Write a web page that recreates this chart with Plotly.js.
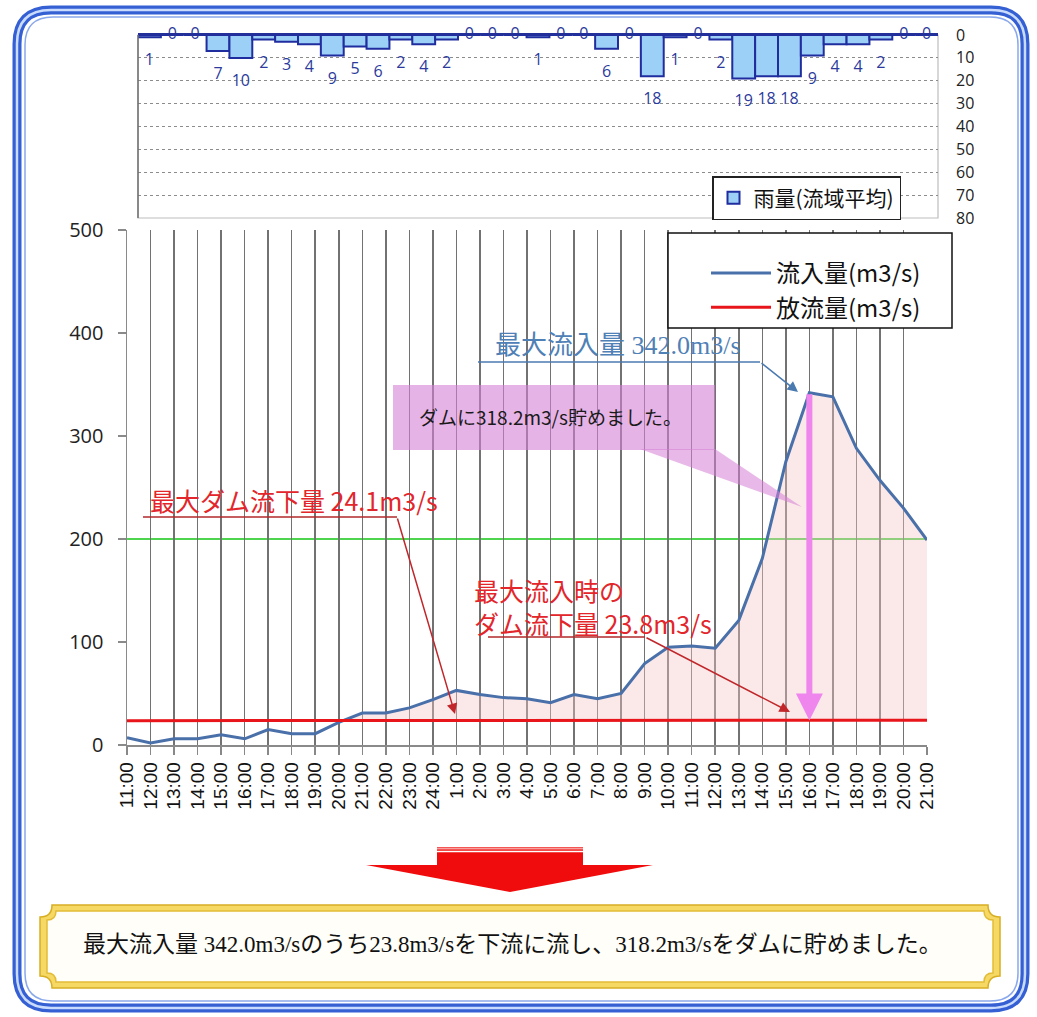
<!DOCTYPE html>
<html>
<head>
<meta charset="utf-8">
<script src="https://cdn.plot.ly/plotly-3.0.1.min.js"></script>
<style>
html,body{margin:0;padding:0;background:#fff;}
#chart{width:1037px;height:1017px;}
</style>
</head>
<body>
<div id="chart"></div>
<script>
// ---------------- data ----------------
const timeLabels = ['11:00','12:00','13:00','14:00','15:00','16:00','17:00','18:00','19:00','20:00','21:00','22:00','23:00','24:00',
  '1:00','2:00','3:00','4:00','5:00','6:00','7:00','8:00','9:00','10:00','11:00','12:00','13:00','14:00','15:00','16:00','17:00','18:00','19:00','20:00','21:00'];
const rainfall = [1,0,0,7,10,2,3,4,9,5,6,2,4,2,0,0,0,1,0,0,6,0,18,1,0,2,19,18,18,9,4,4,2,0,0];
const inflow = [7,2,6,6,10,6,15,11,11,22,31,31,36,44,53,49,46,45,41,49,45,50,79,95,96,94,121,181,275,342,338,288,257,230,199];
const outflow = [23.6,23.6,23.6,23.6,23.6,23.6,23.6,23.6,23.6,23.7,23.8,23.9,24.0,24.0,24.1,24.0,23.9,23.9,23.8,23.8,23.8,23.8,23.8,23.8,23.8,23.8,23.8,23.8,23.8,23.8,23.9,24.0,24.0,24.1,24.1];
const rainTicks = [0,10,20,30,40,50,60,70,80];
const flowTicks = [0,100,200,300,400,500];
const floodFlow = 200;
const peakInflow = 342.0;
const peakOutflow = 23.8;
const maxOutflow = 24.1;
const storedFlow = 318.2;
const seriesNames = {rain:'雨量(流域平均)', inflow:'流入量(m3/s)', outflow:'放流量(m3/s)'};

// ---------------- geometry helpers (pixel -> paper) ----------------
const PL = 127, PR = 938, PT = 35, PB = 745;
const W = PR - PL, H = PB - PT;
const fx = p => (p - PL) / W;
const fy = p => (PB - p) / H;
const P = (x, y) => fx(x).toFixed(5) + ',' + fy(y).toFixed(5);

function roundRect(x0, y0, x1, y1, r) {
  return `M${P(x0 + r, y0)} L${P(x1 - r, y0)} Q${P(x1, y0)} ${P(x1, y0 + r)} L${P(x1, y1 - r)} Q${P(x1, y1)} ${P(x1 - r, y1)} ` +
         `L${P(x0 + r, y1)} Q${P(x0, y1)} ${P(x0, y1 - r)} L${P(x0, y0 + r)} Q${P(x0, y0)} ${P(x0 + r, y0)} Z`;
}
function notchRect(x0, y0, x1, y1, r) {
  return `M${P(x0 + r, y0)} L${P(x1 - r, y0)} Q${P(x1 - r, y0 + r)} ${P(x1, y0 + r)} L${P(x1, y1 - r)} Q${P(x1 - r, y1 - r)} ${P(x1 - r, y1)} ` +
         `L${P(x0 + r, y1)} Q${P(x0 + r, y1 - r)} ${P(x0, y1 - r)} L${P(x0, y0 + r)} Q${P(x0 + r, y0 + r)} ${P(x0 + r, y0)} Z`;
}
function poly(pts) {
  return 'M' + pts.map(p => P(p[0], p[1])).join(' L') + ' Z';
}
function pxLine(x0, y0, x1, y1, color, width) {
  return {type:'line', xref:'paper', yref:'paper', x0:fx(x0), y0:fy(y0), x1:fx(x1), y1:fy(y1),
          line:{color:color, width:width}, layer:'above'};
}
function pxText(left, cy, text, font, extra) {
  return Object.assign({xref:'paper', yref:'paper', x:fx(left), y:fy(cy), xanchor:'left', yanchor:'middle',
          text:text, showarrow:false, font:font}, extra || {});
}
function pxArrow(tail, tip, color, width, size) {
  return {xref:'paper', yref:'paper', x:fx(tip[0]), y:fy(tip[1]), ax:tail[0] - tip[0], ay:tail[1] - tip[1],
          text:'', showarrow:true, arrowhead:2, arrowsize:size || 1.3, arrowwidth:width, arrowcolor:color, standoff:0};
}

const idx = timeLabels.map((_, i) => i);
const fillTop = inflow.map((v, i) => Math.max(v, outflow[i]));
const peakIdx = inflow.indexOf(Math.max(...inflow));

const JP = '"Noto Sans CJK JP", "Noto Sans", sans-serif';
const SERIF = '"Liberation Serif", "DejaVu Serif", "Noto Sans CJK JP", serif';

// ---------------- traces ----------------
const traces = [
  {type:'bar', x:idx, y:rainfall, xaxis:'x2', yaxis:'y2', name:seriesNames.rain, legend:'legend2',
   width:1, marker:{color:'#9dd0f6', line:{color:'#1f2d9e', width:2}}, showlegend:true},
  {type:'scatter', mode:'text', x:idx, y:rainfall.map(v => v > 0 ? v + 10.5 : 0), xaxis:'x2', yaxis:'y2',
   text:rainfall.map(String), textposition:'middle center', cliponaxis:false,
   textfont:{family:'"Open Sans", "DejaVu Sans", sans-serif', size:16, color:'#2b3a9c'}, showlegend:false},
  {type:'scatter', mode:'lines', x:idx, y:outflow, line:{width:0, color:'rgba(0,0,0,0)'}, showlegend:false},
  {type:'scatter', mode:'lines', x:idx, y:fillTop, fill:'tonexty', fillcolor:'rgba(244,200,200,0.4)',
   line:{width:0, color:'rgba(0,0,0,0)'}, showlegend:false},
  {type:'scatter', mode:'lines', x:idx, y:inflow, name:seriesNames.inflow, line:{color:'#4a70aa', width:3}, cliponaxis:false},
  {type:'scatter', mode:'lines', x:idx, y:outflow, name:seriesNames.outflow, line:{color:'#e8161b', width:3}, cliponaxis:false}
];

// ---------------- shapes ----------------
const shapes = [
  // outer rounded frame
  {type:'path', xref:'paper', yref:'paper', path:roundRect(17, 10, 1025, 1008, 34), line:{color:'#3560d4', width:9}, layer:'below'},
  {type:'path', xref:'paper', yref:'paper', path:roundRect(17, 10, 1025, 1008, 34), line:{color:'#c9dbff', width:2.5}, layer:'below'},
  {type:'path', xref:'paper', yref:'paper', path:roundRect(25, 17, 1018, 1001, 28), line:{color:'#8aa8ec', width:1.5}, layer:'below'},
  // rain panel box
  {type:'rect', xref:'paper', yref:'paper', x0:fx(138), x1:1, y0:fy(218), y1:1, line:{color:'#bdbdbd', width:1.2}, layer:'below'},
  pxLine(138, 35, 138, 218, '#6f6f6f', 1.5),
  // flood level line
  {type:'line', xref:'paper', yref:'y', x0:fx(120), x1:fx(927), y0:floodFlow, y1:floodFlow,
   line:{color:'#4fd44f', width:2}, layer:'between'},
  // main legend box
  {type:'rect', xref:'paper', yref:'paper', x0:fx(668), x1:fx(952), y0:fy(233), y1:fy(328),
   fillcolor:'#ffffff', line:{color:'#111', width:1.5}, layer:'above'},
  // pink callout
  {type:'rect', xref:'paper', yref:'paper', x0:fx(393), x1:fx(715), y0:fy(385), y1:fy(450),
   fillcolor:'rgba(214,128,214,0.6)', line:{width:0}, layer:'above'},
  {type:'path', xref:'paper', yref:'paper', path:poly([[640, 449], [715, 449], [802, 507]]),
   fillcolor:'rgba(214,128,214,0.55)', line:{width:0}, layer:'above'},
  // leader underlines
  pxLine(478, 362, 760, 362, '#4a7ab0', 1.5),
  pxLine(143, 517, 397, 517, '#b0282a', 1.5),
  pxLine(488, 637, 645, 637, '#b0282a', 1.5),
  // big red arrow
  {type:'rect', xref:'paper', yref:'paper', x0:fx(437), x1:fx(583), y0:fy(847), y1:fy(868),
   fillcolor:'#f00c0c', line:{width:0}, layer:'above'},
  pxLine(437, 848.5, 583, 848.5, '#f7a0a0', 2),
  pxLine(437, 851.5, 583, 851.5, '#ffffff', 1.5),
  {type:'path', xref:'paper', yref:'paper', path:poly([[366, 865], [653, 865], [510, 892]]),
   fillcolor:'#f00c0c', line:{width:0}, layer:'above'},
  // summary box
  {type:'path', xref:'paper', yref:'paper', path:notchRect(40, 905, 1000, 988, 12),
   fillcolor:'#f6d964', line:{color:'#d8ae24', width:1.5}, layer:'above'},
  {type:'path', xref:'paper', yref:'paper', path:notchRect(47, 911, 993, 982, 9),
   fillcolor:'#fffef8', line:{color:'#e2bc36', width:1.5}, layer:'above'}
];

// ---------------- annotations ----------------
const annotations = [
  pxText(493, 345, `最大流入量 ${peakInflow.toFixed(1)}m3/s`, {family:SERIF, size:26, color:'#4f80b6'}),
  pxArrow([760, 362], [798, 392], '#4a7ab0', 1.5, 1.4),
  pxText(148, 500, `最大ダム流下量 ${maxOutflow.toFixed(1)}m3/s`, {family:JP, size:25, color:'#e2262b'}),
  pxArrow([397, 517], [455, 714], '#c0262a', 1.5, 1.4),
  pxText(472, 606, `最大流入時の<br>ダム流下量 ${peakOutflow.toFixed(1)}m3/s`, {family:JP, size:25, color:'#e2262b'}, {align:'left'}),
  pxArrow([645, 637], [790, 712], '#c0262a', 1.5, 1.4),
  pxText(417, 417, `ダムに${storedFlow.toFixed(1)}m3/s貯めました。`, {family:JP, size:19, color:'#1a1a1a'}),
  {xref:'x', yref:'y', axref:'x', ayref:'y', x:peakIdx, y:outflow[peakIdx], ax:peakIdx, ay:inflow[peakIdx],
   text:'', showarrow:true, arrowhead:2, arrowsize:0.9, arrowwidth:6, arrowcolor:'#ee86ee', standoff:0},
  {xref:'paper', yref:'paper', x:fx(512), y:fy(944), xanchor:'center', yanchor:'middle', showarrow:false,
   text:`最大流入量 ${peakInflow.toFixed(1)}m3/sのうち${peakOutflow.toFixed(1)}m3/sを下流に流し、${storedFlow.toFixed(1)}m3/sをダムに貯めました。`,
   font:{family:SERIF, size:23, color:'#111'}}
];

// ---------------- layout ----------------
const layout = {
  width:1037, height:1017,
  margin:{l:PL, r:1037 - PR, t:PT, b:1017 - PB, autoexpand:false},
  paper_bgcolor:'#ffffff', plot_bgcolor:'rgba(0,0,0,0)',
  font:{family:JP, color:'#222'},
  bargap:0,
  xaxis:{domain:[0, fx(927)], range:[0, timeLabels.length - 1], anchor:'y',
    tickmode:'array', tickvals:idx, ticktext:timeLabels, tickangle:-90,
    tickfont:{family:'"Liberation Sans", Arial, sans-serif', size:19, color:'#111'},
    ticks:'outside', ticklen:8, tickcolor:'#888', tickwidth:1.5,
    showgrid:true, gridcolor:'#727272', gridwidth:1.5, showline:true, linecolor:'#8a8a8a', linewidth:1.5, zeroline:false},
  yaxis:{domain:[0, fy(230)], range:[0, 500], anchor:'x', tickmode:'array', tickvals:flowTicks,
    tickfont:{family:'"Open Sans", "DejaVu Sans", sans-serif', size:20, color:'#222'},
    ticks:'outside', ticklen:8, tickcolor:'#8a8a8a', tickwidth:1.5, ticklabelstandoff:10,
    showgrid:false, showline:true, linecolor:'#8a8a8a', linewidth:1.5, zeroline:false},
  xaxis2:{domain:[fx(138), 1], range:[-0.5, timeLabels.length - 0.5], anchor:'y2', side:'top',
    showticklabels:false, ticks:'', showgrid:false, zeroline:false,
    showline:true, linecolor:'#24309a', linewidth:2.5},
  yaxis2:{domain:[fy(218), 1], range:[80, 0], anchor:'x2', side:'right', tickmode:'array', tickvals:rainTicks,
    tickfont:{family:'"Open Sans", "DejaVu Sans", sans-serif', size:16, color:'#222'},
    ticks:'', ticklabelstandoff:17, showgrid:true, gridcolor:'#8c8c8c', griddash:'dot', gridwidth:1,
    showline:false, zeroline:false},
  legend:{x:fx(706), y:fy(251), xanchor:'left', yanchor:'top', bgcolor:'rgba(0,0,0,0)', borderwidth:0,
    traceorder:'normal', font:{family:JP, size:24, color:'#111'}, itemwidth:60, tracegroupgap:0},
  legend2:{x:fx(712), y:fy(176), xanchor:'left', yanchor:'top', bgcolor:'#ffffff', bordercolor:'#222', borderwidth:1.5,
    font:{family:JP, size:21, color:'#111'}},
  shapes:shapes,
  annotations:annotations
};

Plotly.newPlot('chart', traces, layout, {staticPlot:true, displayModeBar:false});
</script>
</body>
</html>
